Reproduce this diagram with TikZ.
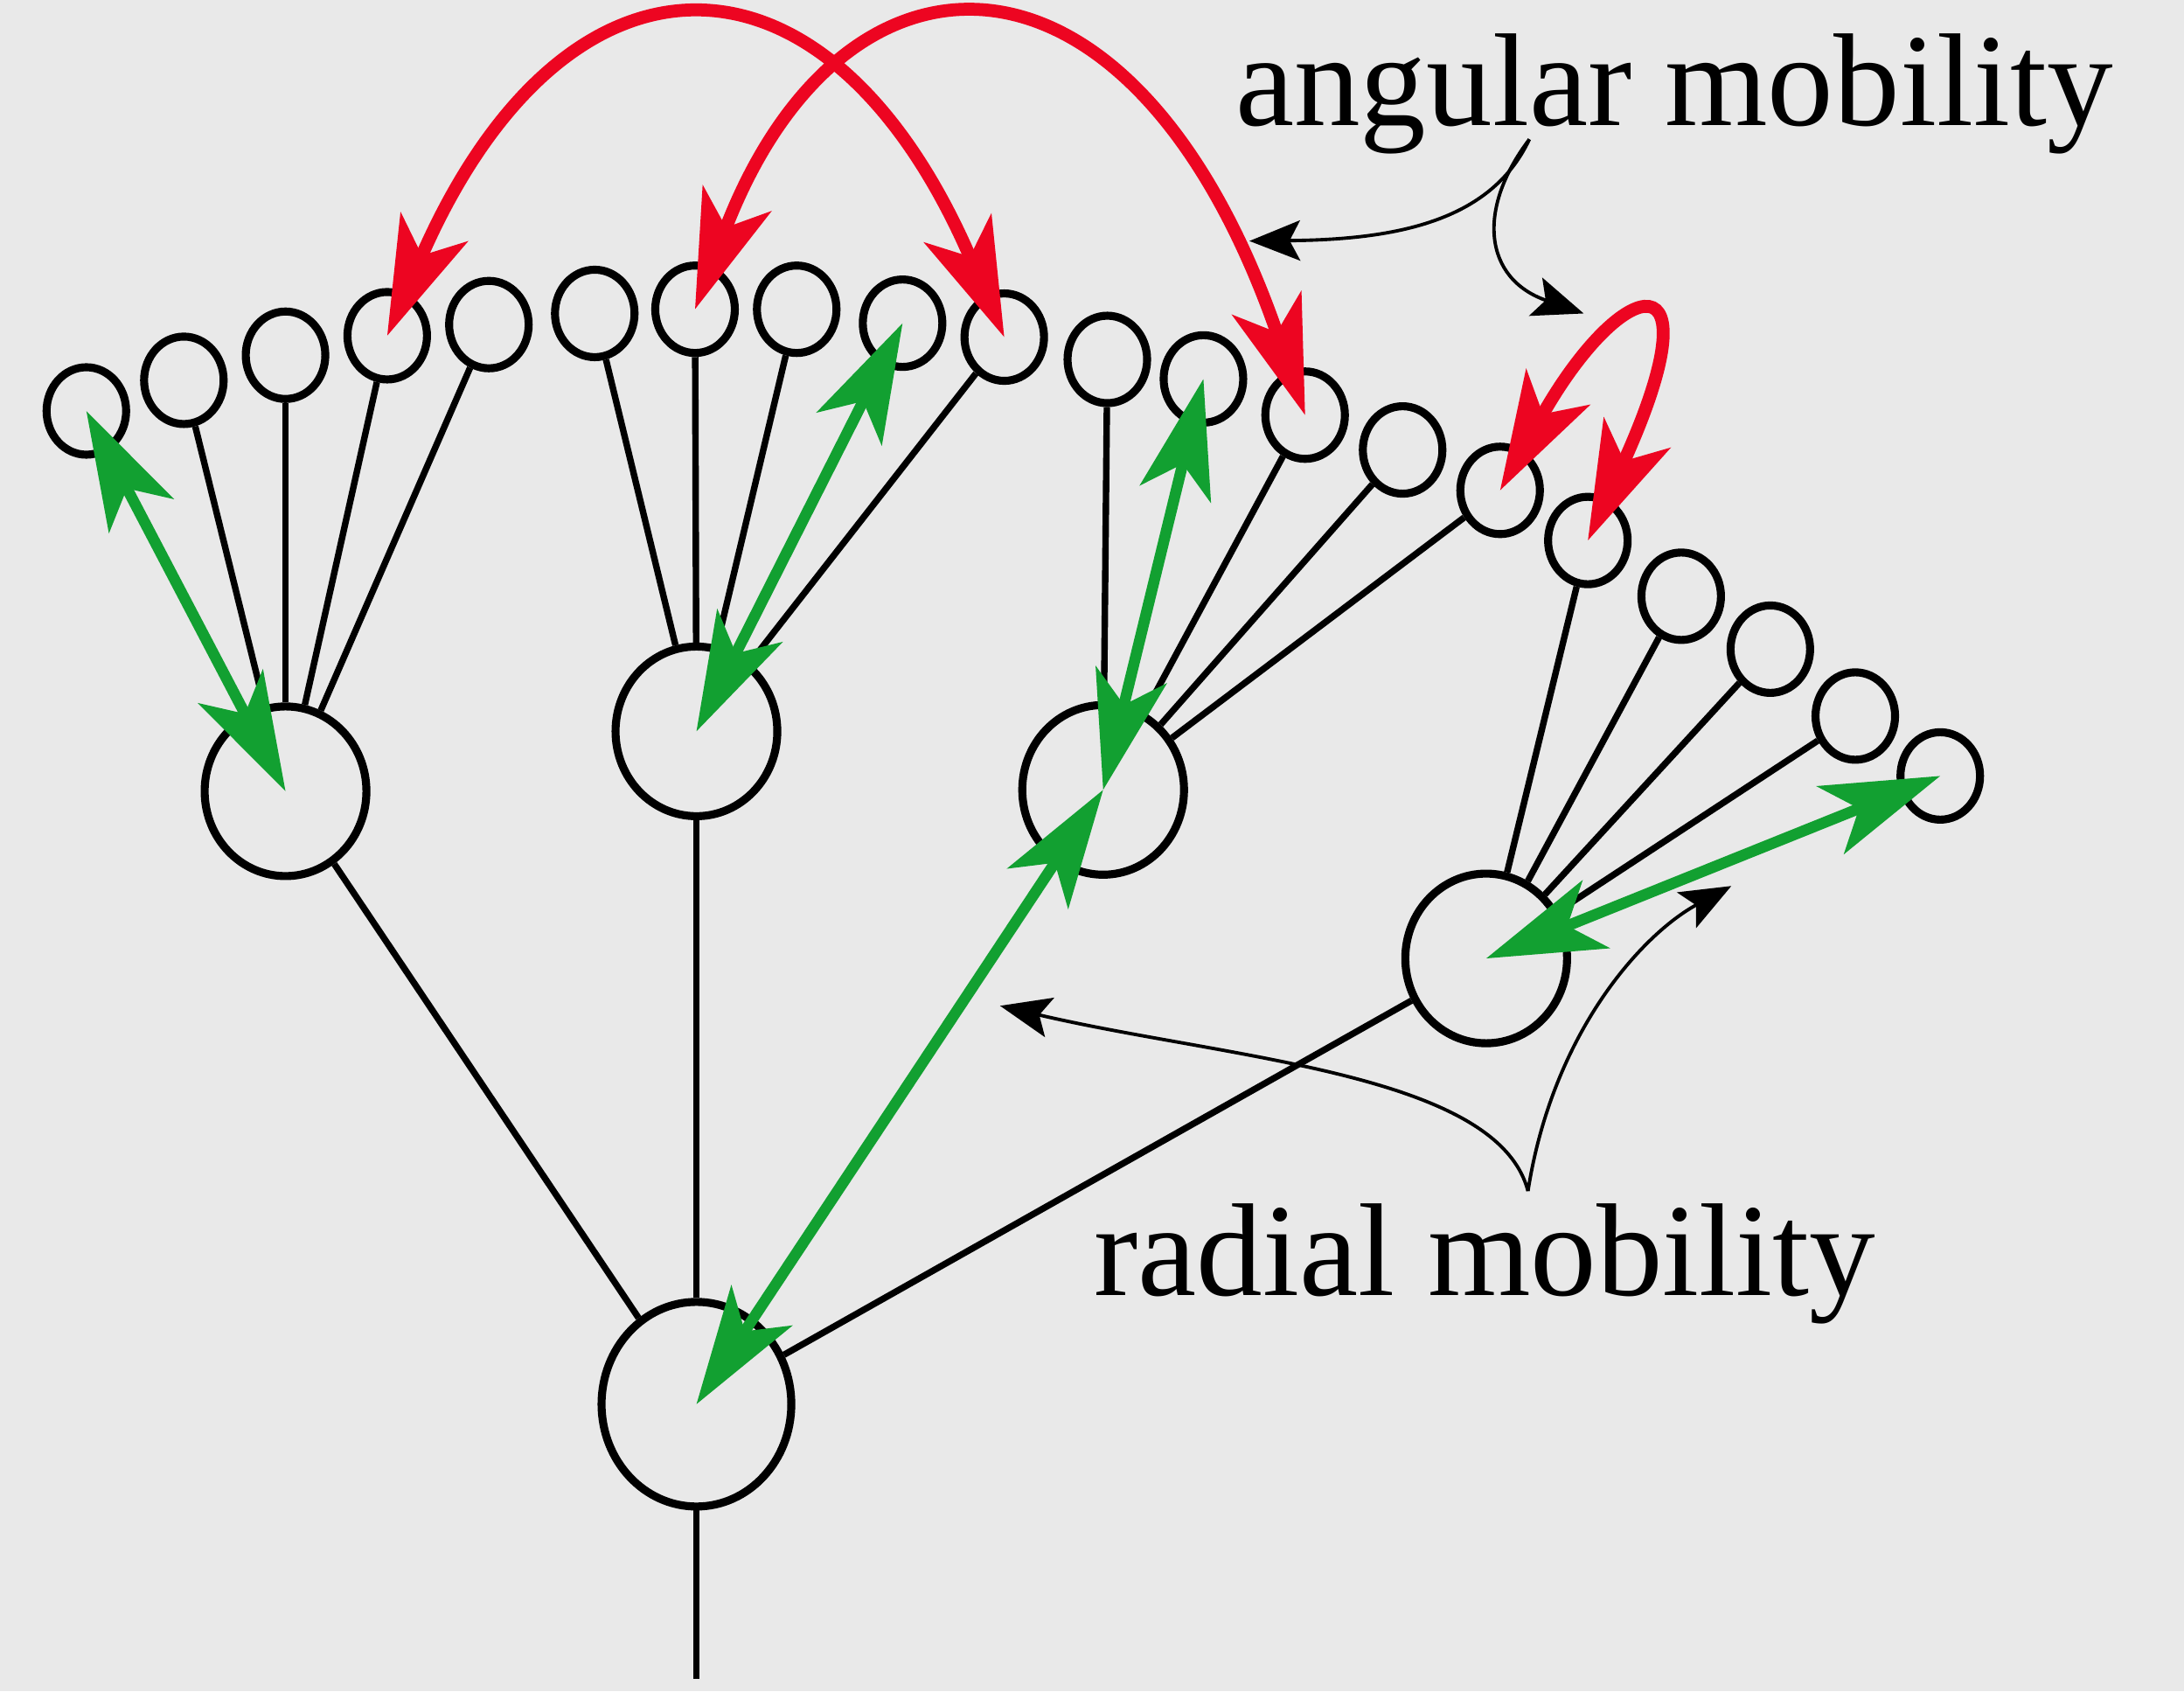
\documentclass[tikz,border=0pt]{standalone}
\usepackage{fontspec}
\setmainfont{Liberation Serif}
\definecolor{BackGray}{RGB}{233,233,233}
\definecolor{AngRed}{HTML}{ED0521}
\definecolor{RadGreen}{HTML}{12A031}
\usetikzlibrary{arrows.meta,shapes.geometric}

\begin{document}
\begin{tikzpicture}[
						x=0.01593cm, y=-0.01593cm,
						cell/.style={draw, ellipse, line width=2.6pt, inner sep=0pt},
						rootcell/.style={cell, minimum width=2.17cm, minimum height=2.34cm},
						midcell/.style={cell, minimum width=1.85cm, minimum height=1.94cm},
						tipcell/.style={cell, minimum width=0.91cm, minimum height=1.0cm},
						stem/.style={line width=2.1pt},
						bighead/.tip={Stealth[length=13.5mm, width=8.3mm, inset=3.5mm]},
						angular/.style={draw=AngRed, line width=4.2pt, bighead-bighead},
						radial/.style={draw=RadGreen, line width=3.6pt, bighead-bighead},
						pointer/.style={line width=1.1pt, -{Stealth[length=5.8mm, width=4.6mm, inset=1.2mm]}},
						mobtext/.style={font=\fontsize{43}{43}\selectfont, anchor=base, inner sep=0pt}
					]
						\useasboundingbox (0,0) rectangle (1568,1214);
						\fill[BackGray] (0,0) rectangle (1568,1214);

						% root and first level
						\node[rootcell] (root) at (500,1008) {};
						\coordinate (foot) at (500,1205);
						\node[midcell] (ba) at (205,568) {};
						\node[midcell] (bb) at (500,525) {};
						\node[midcell] (bc) at (792,567) {};
						\node[midcell] (bd) at (1067,688) {};

						% tips
						\node[tipcell] (a1) at (62,295) {};
						\node[tipcell] (a2) at (132,273) {};
						\node[tipcell] (a3) at (205,255) {};
						\node[tipcell] (a4) at (278,241) {};
						\node[tipcell] (a5) at (351,233) {};
						\node[tipcell] (b1) at (427,225) {};
						\node[tipcell] (b2) at (499,222) {};
						\node[tipcell] (b3) at (572,222) {};
						\node[tipcell] (b4) at (648,232) {};
						\node[tipcell] (b5) at (721,242) {};
						\node[tipcell] (c1) at (795,258) {};
						\node[tipcell] (c2) at (864,272) {};
						\node[tipcell] (c3) at (937,298) {};
						\node[tipcell] (c4) at (1007,323) {};
						\node[tipcell] (c5) at (1077,352) {};
						\node[tipcell] (d1) at (1140,388) {};
						\node[tipcell] (d2) at (1207,428) {};
						\node[tipcell] (d3) at (1271,466) {};
						\node[tipcell] (d4) at (1332,514) {};
						\node[tipcell] (d5) at (1393,557) {};

						\draw[stem] (root) -- (foot);
						\draw[stem] (root) -- (ba);
						\draw[stem] (root) -- (bb);
						\draw[stem] (root) -- (bd);
						\foreach \t in {a2,a3,a4,a5} \draw[stem] (ba) -- (\t);
						\foreach \t in {b1,b2,b3,b5} \draw[stem] (bb) -- (\t);
						\foreach \t in {c1,c3,c4,c5} \draw[stem] (bc) -- (\t);
						\foreach \t in {d1,d2,d3,d4} \draw[stem] (bd) -- (\t);

						\draw[radial] (ba.center) -- (a1.center);
						\draw[radial] (bb.center) -- (b4.center);
						\draw[radial] (bc.center) -- (c2.center);
						\draw[radial] (root.center) -- (bc.center);
						\draw[radial] (bd.center) -- (d5.center);

						\draw[angular] (a4.center) .. controls (405,-53) and (595,-53) .. (b5.center);
						\draw[angular] (b2.center) .. controls (605,-58) and (815,-58) .. (c3.center);
						\draw[angular] (c5.center) .. controls (1165,195) and (1235,180) .. (d1.center);

						\node[mobtext] (angtxt) at (1202,90) {angular mobility};
						\node[mobtext] (radtxt) at (1066,930) {radial mobility};

						\coordinate (angfoot) at (1098,100);
						\coordinate (angtipA) at (897,173);
						\coordinate (angtipB) at (1137,225);
						\coordinate (radfoot) at (1097,855);
						\coordinate (radtipA) at (718,722);
						\coordinate (radtipB) at (1243,636);
						\draw[pointer] (angfoot) .. controls (1070,160) and (1000,172) .. (angtipA);
						\draw[pointer] (angfoot) .. controls (1060,150) and (1065,200) .. (angtipB);
						\draw[pointer] (radfoot) .. controls (1075,770) and (880,760) .. (radtipA);
						\draw[pointer] (radfoot) .. controls (1115,740) and (1180,670) .. (radtipB);
					\end{tikzpicture}
\end{document}
